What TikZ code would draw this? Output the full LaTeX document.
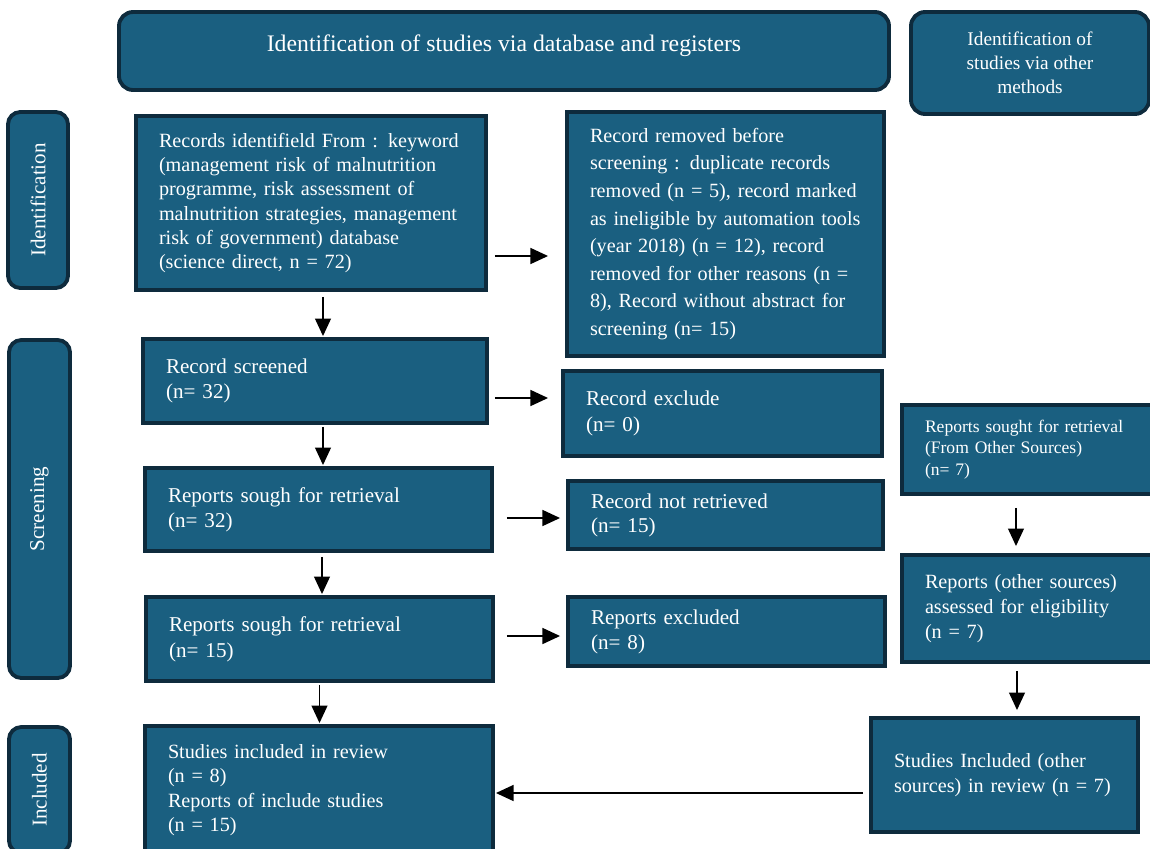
\documentclass[tikz,border=0pt]{standalone}
\usepackage{fontspec}
\setmainfont{Liberation Serif}
\usetikzlibrary{arrows.meta}
\definecolor{boxfill}{HTML}{1A5F80}
\definecolor{boxline}{HTML}{0E2B3D}
\tikzset{
  hdr/.style ={rectangle, rounded corners=8pt, draw=boxline, line width=2.2pt, fill=boxfill, text=white, align=center, inner sep=2pt},
  phase/.style ={rectangle, rounded corners=7pt, draw=boxline, line width=2.2pt, fill=boxfill, text=white, rotate=90, inner sep=2pt, font=\fontsize{12}{14}\selectfont},
  rec/.style ={rectangle, draw=boxline, line width=2.2pt, fill=boxfill, text=white, align=left, inner ysep=0pt, inner xsep=0.46cm, font=\fontsize{11.5}{13.8}\selectfont},
  e/.style   ={-{Triangle[length=10pt, width=9pt]}, draw=black, line width=1.1pt},
}
\begin{document}
\begin{tikzpicture}
\useasboundingbox (0,0) rectangle (23,-16.96);
% headers
\node[hdr, minimum width=15.4cm, minimum height=1.56cm, text depth=9pt, font=\fontsize{13.5}{16}\selectfont] (hdb) at (10.08,-1.02) {Identification of studies via database and registers};
\node[hdr, minimum width=4.76cm, minimum height=2.04cm, font=\fontsize{11}{13.6}\selectfont] (hot) at (20.6,-1.26) {Identification of\\studies via other\\methods};
% phases
\node[phase, minimum width=3.52cm, minimum height=1.2cm] (pid) at (0.76,-4.0) {Identification};
\node[phase, minimum width=6.76cm, minimum height=1.22cm] (psc) at (0.79,-10.18) {Screening};
\node[phase, minimum width=2.52cm, minimum height=1.22cm] (pin) at (0.79,-15.8) {Included};
% database branch
\node[rec, text width=6.08cm, minimum height=3.48cm] (ident) at (6.22,-4.06) {Records identifield From : keyword\\(management risk of malnutrition\\programme, risk assessment of\\malnutrition strategies, management\\risk of government) database\\(science direct, n = 72)};
\node[rec, text width=5.42cm, minimum height=4.88cm, font=\fontsize{11.5}{15.7}\selectfont] (removed) at (14.51,-4.68) {Record removed before\\screening : duplicate records\\removed (n = 5), record marked\\as ineligible by automation tools\\(year 2018) (n = 12), record\\removed for other reasons (n =\\8), Record without abstract for\\screening (n= 15)};
\node[rec, text width=5.96cm, minimum height=1.68cm, font=\fontsize{12}{14.7}\selectfont] (screened) at (6.3,-7.62) {Record screened\\(n= 32)};
\node[rec, text width=5.46cm, minimum height=1.7cm, font=\fontsize{12}{15}\selectfont] (exclude) at (14.45,-8.27) {Record exclude\\(n= 0)};
\node[rec, text width=6.02cm, minimum height=1.66cm, font=\fontsize{12}{14.2}\selectfont] (sought) at (6.37,-10.19) {Reports sough for retrieval\\(n= 32)};
\node[rec, text width=5.38cm, minimum height=1.36cm, font=\fontsize{12}{13.6}\selectfont] (notret) at (14.51,-10.3) {Record not retrieved\\(n= 15)};
\node[rec, text width=6.02cm, minimum height=1.68cm, font=\fontsize{12}{14.7}\selectfont] (assessed) at (6.39,-12.78) {Reports sough for retrieval\\(n= 15)};
\node[rec, text width=5.42cm, minimum height=1.38cm, font=\fontsize{12}{14.2}\selectfont] (repexcl) at (14.53,-12.63) {Reports excluded\\(n= 8)};
\node[rec, text width=6.04cm, minimum height=2.56cm] (incl) at (6.38,-15.8) {Studies included in review\\(n = 8)\\Reports of include studies\\(n = 15)};
% other sources branch
\node[rec, text width=4.08cm, minimum height=1.78cm, font=\fontsize{10}{12.2}\selectfont] (osought) at (20.54,-8.99) {Reports sought for retrieval\\(From Other Sources)\\(n= 7)};
\node[rec, text width=4.08cm, minimum height=2.14cm, font=\fontsize{11.5}{14.2}\selectfont] (oassess) at (20.54,-12.17) {Reports (other sources)\\assessed for eligibility\\(n = 7)};
\node[rec, text width=4.42cm, minimum height=2.28cm, font=\fontsize{11.5}{14.2}\selectfont] (oincl) at (20.09,-15.5) {Studies Included (other\\sources) in review (n = 7)};
% arrows
\draw[e, shorten <=0.14cm, shorten >=0.34cm] ([yshift=-1.06cm]ident.east) -- ([yshift=-1.06cm]ident.east -| removed.west);
\draw[e, shorten <=0.1cm, shorten >=0.02cm] ([xshift=0.24cm]ident.south) -- ([xshift=0.24cm]ident.south |- screened.north);
\draw[e, shorten <=0.12cm, shorten >=0.26cm] ([yshift=-0.34cm]screened.east) -- ([yshift=-0.34cm]screened.east -| exclude.west);
\draw[e, shorten <=0.04cm, shorten >=0.02cm] ([xshift=0.16cm]screened.south) -- ([xshift=0.16cm]screened.south |- sought.north);
\draw[e, shorten <=0.26cm, shorten >=0.12cm] ([yshift=-0.17cm]sought.east) -- ([yshift=-0.17cm]sought.east -| notret.west);
\draw[e, shorten <=0.08cm, shorten >=0.02cm] ([xshift=0.07cm]sought.south) -- ([xshift=0.07cm]sought.south |- assessed.north);
\draw[e, shorten <=0.24cm, shorten >=0.12cm] ([yshift=0.06cm]assessed.east) -- ([yshift=0.06cm]assessed.east -| repexcl.west);
\draw[e, shorten <=0.04cm, shorten >=0.02cm] (assessed.south) -- (assessed.south |- incl.north);
\draw[e, shorten <=0.24cm, shorten >=0.14cm] ([xshift=-0.22cm]osought.south) -- ([xshift=-0.22cm]osought.south |- oassess.north);
\draw[e, shorten <=0.14cm, shorten >=0.12cm] ([xshift=-0.2cm]oassess.south) -- ([xshift=-0.2cm]oassess.south |- oincl.north);
\draw[e, shorten <=0.12cm, shorten >=0.02cm] ([yshift=-0.36cm]oincl.west) -- ([yshift=-0.36cm]oincl.west -| incl.east);
\end{tikzpicture}
\end{document}
